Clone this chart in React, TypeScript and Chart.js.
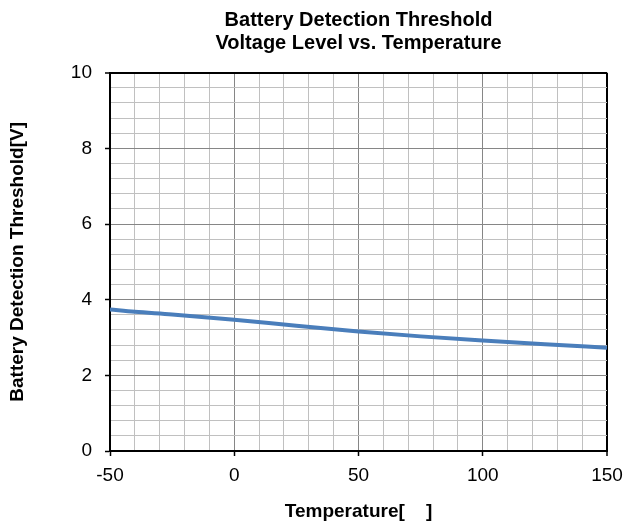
import React, { useEffect, useRef } from "react";
import { Chart, registerables } from "chart.js";

Chart.register(...registerables);

const temperatures = [-50, -40, -25, 0, 25, 50, 75, 100, 125, 150];
const thresholdVoltages = [3.74, 3.68, 3.61, 3.47, 3.31, 3.16, 3.03, 2.92, 2.82, 2.73];
const titleLines = ["Battery Detection Threshold", "Voltage Level vs. Temperature"];
const xAxisTitle = "Temperature[    ]";
const yAxisTitle = "Battery Detection Threshold[V]";

const FONT = "'Liberation Sans', Arial, sans-serif";

const isMult = (v: number, m: number) => Math.abs(v / m - Math.round(v / m)) < 1e-6;

export default function App() {
  const ref = useRef<HTMLCanvasElement | null>(null);

  useEffect(() => {
    if (!ref.current) return;
    const points = temperatures.map((t, i) => ({ x: t, y: thresholdVoltages[i] }));
    const chart = new Chart(ref.current, {
      type: "line",
      data: {
        datasets: [
          {
            data: points,
            borderColor: "#4a7ebb",
            borderWidth: 4,
            pointRadius: 0,
            tension: 0.4,
            cubicInterpolationMode: "monotone",
            fill: false,
          },
        ],
      },
      options: {
        animation: false,
        responsive: false,
        maintainAspectRatio: false,
        layout: { padding: { right: 18, top: 0, left: 0, bottom: 0 } },
        plugins: {
          legend: { display: false },
          tooltip: { enabled: false },
          title: {
            display: true,
            text: titleLines,
            fullSize: false,
            color: "#000",
            font: { family: FONT, size: 20, weight: "bold", lineHeight: 1.15 },
            padding: { top: 9, bottom: 17.7 },
          },
        },
        scales: {
          x: {
            type: "linear",
            min: -50,
            max: 150,
            afterFit: (s: any) => {
              s.height = 74;
              s.paddingRight = 0;
              s.paddingLeft = 0;
            },
            ticks: {
              stepSize: 10,
              autoSkip: false,
              maxRotation: 0,
              padding: 8,
              color: "#000",
              font: { family: FONT, size: 19 },
              callback: (v: any) => (isMult(Number(v), 50) ? String(v) : ""),
            },
            grid: {
              drawTicks: true,
              tickLength: 5,
              color: (c: any) => {
                const v = c.tick ? c.tick.value : 0;
                if (v === 150) return "#000";
                return isMult(v, 50) ? "#868686" : "#c0c0c0";
              },
              lineWidth: (c: any) => {
                const v = c.tick ? c.tick.value : 0;
                return v === 150 ? 2 : 1;
              },
              tickColor: (c: any) => {
                const v = c.tick ? c.tick.value : 0;
                return isMult(v, 50) ? "#000" : "rgba(0,0,0,0)";
              },
              tickWidth: 1.5,
            },
            border: { display: true, color: "#000", width: 2 },
            title: {
              display: true,
              text: xAxisTitle,
              color: "#000",
              font: { family: FONT, size: 19, weight: "bold", lineHeight: 1.2 },
              padding: { top: 0, bottom: 2 },
            },
          },
          y: {
            type: "linear",
            min: 0,
            max: 10,
            afterFit: (s: any) => {
              s.width = 110;
            },
            ticks: {
              stepSize: 0.4,
              autoSkip: false,
              padding: 13,
              color: "#000",
              font: { family: FONT, size: 19 },
              callback: (v: any) => (isMult(Number(v), 2) ? String(Math.round(Number(v))) : ""),
            },
            grid: {
              drawTicks: true,
              tickLength: 5,
              color: (c: any) => {
                const v = c.tick ? c.tick.value : 0;
                if (isMult(v, 10) && v > 5) return "#000";
                return isMult(v, 2) ? "#868686" : "#c0c0c0";
              },
              lineWidth: (c: any) => {
                const v = c.tick ? c.tick.value : 0;
                return isMult(v, 10) && v > 5 ? 2 : 1;
              },
              tickColor: (c: any) => {
                const v = c.tick ? c.tick.value : 0;
                return isMult(v, 2) ? "#000" : "rgba(0,0,0,0)";
              },
              tickWidth: 1.5,
            },
            border: { display: true, color: "#000", width: 2 },
            title: {
              display: true,
              text: yAxisTitle,
              color: "#000",
              font: { family: FONT, size: 19, weight: "bold", lineHeight: 1.2 },
              padding: { top: 6, bottom: 0 },
            },
          },
        },
      },
    });
    return () => chart.destroy();
  }, []);

  return (
    <div style={{ position: "absolute", left: 0, top: 0, width: 625, height: 525 }}>
      <canvas ref={ref} width={625} height={525} style={{ width: 625, height: 525 }} />
    </div>
  );
}
